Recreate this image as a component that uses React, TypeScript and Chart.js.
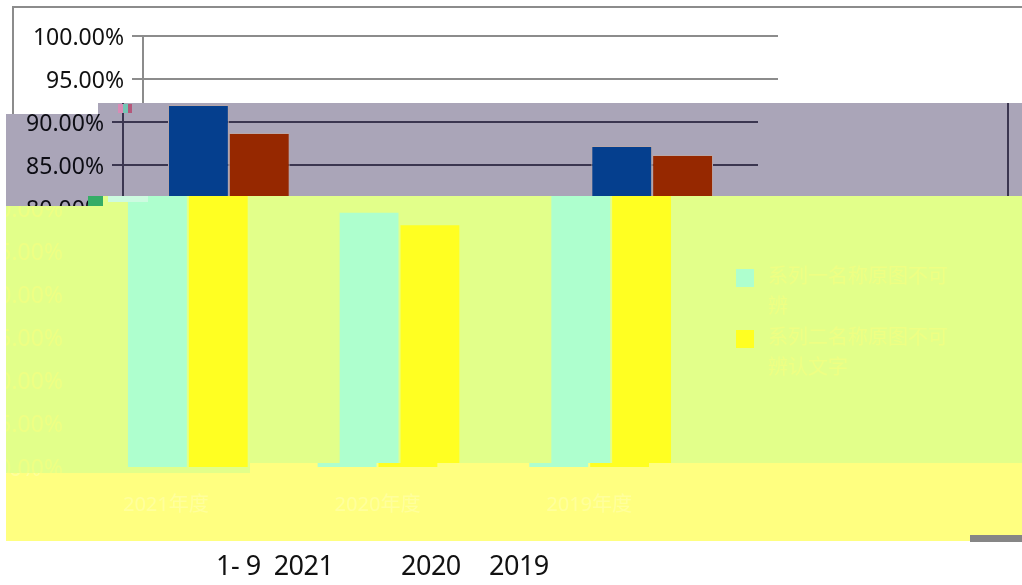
import React, { useEffect, useRef } from "react";
import { Chart, registerables } from "chart.js";

Chart.register(...registerables);

const categories = ["2021年度", "2020年度", "2019年度"];
const seriesA = [92.0, 79.6, 87.25];
const seriesB = [88.75, 78.15, 86.2];
const legendA = ["系列一名称原图不可", "辨"];
const legendB = ["系列二名称原图不可", "辨认文字"];
const footerLabels = [
  { text: "1- 9  2021", left: 216 },
  { text: "2020", left: 401 },
  { text: "2019", left: 489 },
];
const specks = [
  { left: 118, top: 104, width: 5, height: 9, background: "#d98bb5" },
  { left: 123, top: 104, width: 5, height: 9, background: "#74c4b4" },
  { left: 128, top: 104, width: 4, height: 9, background: "#b5577a" },
  { left: 88, top: 196, width: 15, height: 10, background: "#35ad66" },
  { left: 108, top: 196, width: 40, height: 6, background: "#cdfbe0" },
];

const W = 1110;
const H = 585;
const SANS = '"Noto Sans", sans-serif';
const CJK = '"Noto Sans", "Noto Sans CJK SC", sans-serif';

type Band = {
  shift: number;
  clip: string;
  bg: string;
  grid: string;
  frame: string;
  text: string;
  xText: string;
  colorA: string;
  colorB: string;
  barEdge: string;
  legend: boolean;
};

const bands: Band[] = [
  {
    shift: 0,
    clip: "none",
    bg: "#ffffff",
    grid: "#8c8c8c",
    frame: "#8c8c8c",
    text: "#111111",
    xText: "#111111",
    colorA: "#053f8e",
    colorB: "#962800",
    barEdge: "#ffffff",
    legend: false,
  },
  {
    shift: -20,
    clip: "polygon(98px 103px,1022px 103px,1022px 206px,6px 206px,6px 114px,98px 114px)",
    bg: "#aaa5b8",
    grid: "#3b3650",
    frame: "#3b3650",
    text: "#0d0d14",
    xText: "#0d0d14",
    colorA: "#053f8e",
    colorB: "#962800",
    barEdge: "#b9a7a8",
    legend: false,
  },
  {
    shift: -61,
    clip: "polygon(88px 196px,1022px 196px,1022px 473px,6px 473px,6px 206px,88px 206px)",
    bg: "#e2ff8a",
    grid: "#e2ff8a",
    frame: "#e2ff8a",
    text: "#eeff84",
    xText: "#eeff84",
    colorA: "#aeffce",
    colorB: "#ffff22",
    barEdge: "#e2ff8a",
    legend: true,
  },
  {
    shift: -83,
    clip: "polygon(250px 463px,1022px 463px,1022px 541px,6px 541px,6px 473px,250px 473px)",
    bg: "#ffff80",
    grid: "#ffff80",
    frame: "#ffff80",
    text: "#ffff9c",
    xText: "#ffff9c",
    colorA: "#aeffce",
    colorB: "#ffff22",
    barEdge: "#ffff80",
    legend: false,
  },
];

function Layer({ band }: { band: Band }) {
  const ref = useRef<HTMLCanvasElement | null>(null);
  useEffect(() => {
    if (!ref.current) return;
    const chart = new Chart(ref.current, {
      type: "bar",
      data: {
        labels: categories,
        datasets: [
          {
            label: legendA.join(""),
            data: seriesA,
            backgroundColor: band.colorA,
            borderColor: band.barEdge,
            borderWidth: 1,
            categoryPercentage: 0.575,
            barPercentage: 1,
          },
          {
            label: legendB.join(""),
            data: seriesB,
            backgroundColor: band.colorB,
            borderColor: band.barEdge,
            borderWidth: 1,
            categoryPercentage: 0.575,
            barPercentage: 1,
          },
        ],
      },
      options: {
        responsive: false,
        animation: false,
        layout: { padding: { left: 0, right: W - 778, top: 36, bottom: 0 } },
        plugins: { legend: { display: false }, tooltip: { enabled: false } },
        scales: {
          x: {
            afterFit: (s: any) => {
              s.height = H - 467;
            },
            grid: { display: false },
            border: { color: band.grid, width: 2 },
            ticks: {
              color: band.xText,
              padding: 18,
              font: { family: CJK, size: 20 },
              maxRotation: 0,
            },
          },
          y: {
            min: 50,
            max: 100,
            afterFit: (s: any) => {
              s.width = 143;
            },
            grid: { color: band.grid, lineWidth: 2, tickLength: 11 },
            border: { color: band.grid, width: 2 },
            ticks: {
              stepSize: 5,
              color: band.text,
              padding: 8,
              labelOffset: 2,
              font: { family: SANS, size: 23 },
              callback: (v: any) => Number(v).toFixed(2) + "%",
            },
          },
        },
      },
      plugins: [
        {
          id: "frame",
          beforeDraw(c: any) {
            const g = c.ctx;
            g.save();
            g.strokeStyle = band.frame;
            g.lineWidth = 2;
            g.strokeRect(13, 7, 1015, 523);
            g.restore();
          },
          afterDraw(c: any) {
            if (!band.legend) return;
            const g = c.ctx;
            g.save();
            g.font = `20px ${CJK}`;
            g.textBaseline = "middle";
            const items = [
              { lines: legendA, color: band.colorA, y: 277 },
              { lines: legendB, color: band.colorB, y: 338 },
            ];
            for (const it of items) {
              g.fillStyle = it.color;
              g.fillRect(797, it.y - 8, 18, 18);
              g.fillStyle = band.text;
              it.lines.forEach((t: string, i: number) => {
                g.fillText(t, 829, it.y + i * 30);
              });
            }
            g.restore();
          },
        },
      ],
    } as any);
    return () => chart.destroy();
  }, [band]);

  return (
    <div
      style={{
        position: "absolute",
        left: 0,
        top: 0,
        width: 1022,
        height: 585,
        overflow: "hidden",
        background: band.bg,
        clipPath: band.clip,
      }}
    >
      <canvas
        ref={ref}
        width={W}
        height={H}
        style={{ position: "absolute", left: band.shift, top: 0, width: W, height: H }}
      />
    </div>
  );
}

export default function App() {
  return (
    <div
      style={{
        position: "fixed",
        left: 0,
        top: 0,
        width: 1022,
        height: 585,
        overflow: "hidden",
        background: "#fff",
      }}
    >
      {bands.map((b, i) => (
        <Layer key={i} band={b} />
      ))}
      <div
        style={{
          position: "absolute",
          left: 970,
          top: 535,
          width: 52,
          height: 7,
          background: "#868686",
        }}
      />
      {specks.map((s, i) => (
        <div key={i} style={{ position: "absolute", ...s }} />
      ))}
      {footerLabels.map((f) => (
        <div
          key={f.text}
          style={{
            position: "absolute",
            left: f.left,
            top: 546,
            fontFamily: SANS,
            fontSize: 27,
            lineHeight: "38px",
            letterSpacing: "-0.5px",
            whiteSpace: "pre",
            color: "#111",
          }}
        >
          {f.text}
        </div>
      ))}
    </div>
  );
}
